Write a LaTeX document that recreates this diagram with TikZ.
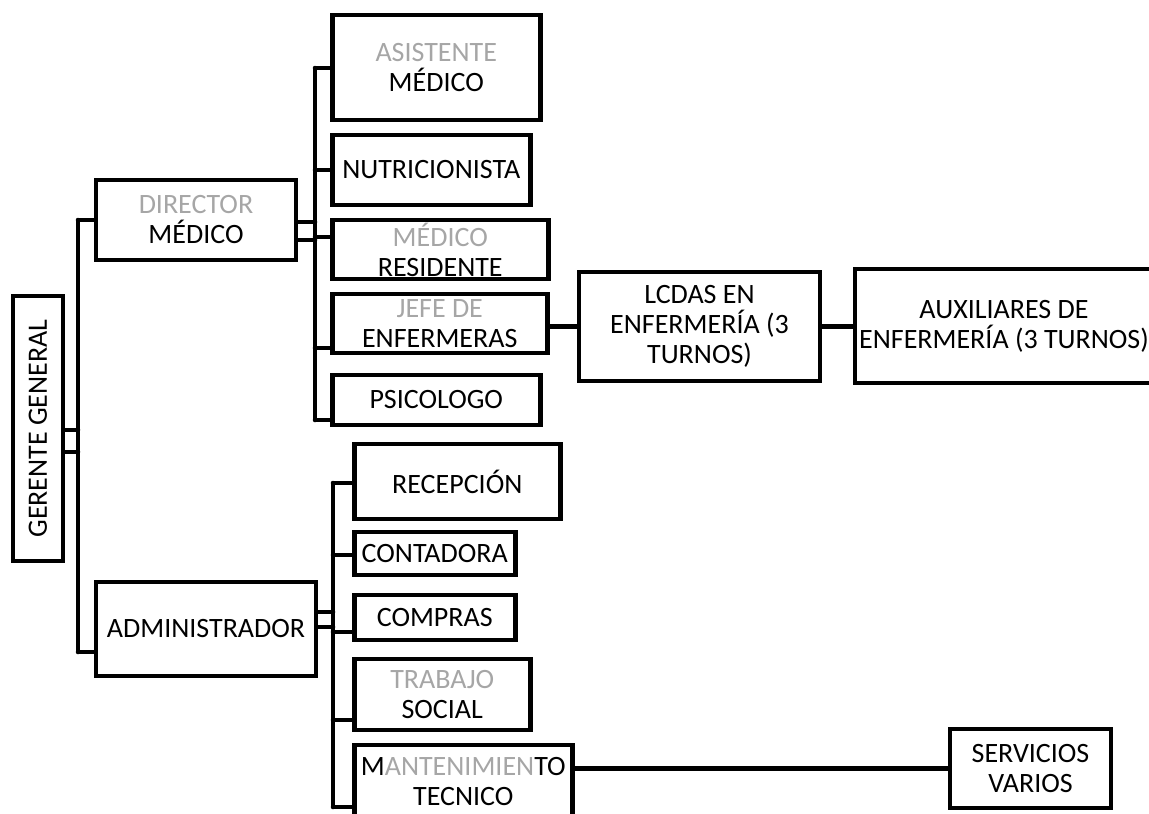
\documentclass[tikz,border=0pt]{standalone}
\usepackage{fontspec}
\setmainfont{Carlito}
\definecolor{grisclaro}{RGB}{166,166,166}
\begin{document}
\begin{tikzpicture}[x=1pt,y=-1pt,
  caja/.style={draw,line width=4.5pt,align=center,inner sep=0pt,font=\fontsize{28}{30}\selectfont},
  linea/.style={line width=4.5pt,line cap=round}]
\useasboundingbox (0,0) rectangle (1149,814);
\node[caja,rotate=90,minimum width=265pt,minimum height=50pt] (gerente) at (38,428.5) {GERENTE GENERAL};
\node[caja,minimum width=200pt,minimum height=80pt] (director) at (196,220) {\textcolor{grisclaro}{DIRECTOR}\\MÉDICO};
\node[caja,minimum width=220pt,minimum height=94pt] (admin) at (206,629) {ADMINISTRADOR};
\coordinate (gtop) at (78,220);
\coordinate (gbot) at (78,652);
\draw[linea] (gtop) -- (gbot);
\draw[linea] (gtop) -- (director.west |- gtop);
\draw[linea] (gbot) -- (admin.west |- gbot);
\foreach \ya in {430,452}
  \draw[linea] (gerente.south |- 0,\ya) -- (gtop |- 0,\ya);
\coordinate (dtop) at (315,68);
\coordinate (dbot) at (315,420);
\draw[linea] (dtop) -- (dbot);
\foreach \ya in {222,240}
  \draw[linea] (director.east |- 0,\ya) -- (dtop |- 0,\ya);
\foreach \nom/\cy/\w/\h/\ya/\txt in {
  asistente/67.5/208/105/68/{\textcolor{grisclaro}{ASISTENTE}\\MÉDICO},
  nutri/170/198/70/170/{NUTRICIONISTA},
  residente/249.5/216/59/237/{\textcolor{grisclaro}{MÉDICO}\\RESIDENTE},
  jefe/323.5/215/59/348/{\textcolor{grisclaro}{JEFE DE}\\ENFERMERAS},
  psico/400/208/50/420/{PSICOLOGO}}{
  \node[caja,anchor=west,minimum width=\w pt,minimum height=\h pt] (\nom) at (330,\cy) {\txt};
  \draw[linea] (dtop |- 0,\ya) -- (\nom.west |- 0,\ya);
}
\coordinate (atop) at (333,483);
\coordinate (abot) at (333,807);
\draw[linea] (atop) -- (abot);
\foreach \ya in {612,627}
  \draw[linea] (admin.east |- 0,\ya) -- (atop |- 0,\ya);
\foreach \nom/\cy/\w/\h/\ya/\txt in {
  recepcion/481.5/206/75/483/{RECEPCIÓN},
  contadora/553.5/161/43/555/{CONTADORA},
  compras/617.5/161/45/632/{COMPRAS},
  trabajo/694.5/176/71/720/{\textcolor{grisclaro}{TRABAJO}\\SOCIAL},
  mant/781.5/218/73/807/{M\textcolor{grisclaro}{ANTENIMIEN}TO\\TECNICO}}{
  \node[caja,anchor=west,minimum width=\w pt,minimum height=\h pt] (\nom) at (352,\cy) {\txt};
  \draw[linea] (atop |- 0,\ya) -- (\nom.west |- 0,\ya);
}
\node[caja,minimum width=241pt,minimum height=109pt] (lcdas) at (699.5,326.5) {LCDAS EN\\ENFERMERÍA (3\\TURNOS)};
\node[caja,minimum width=298pt,minimum height=114pt] (auxiliares) at (1004,326) {AUXILIARES DE\\ENFERMERÍA (3 TURNOS)};
\node[caja,minimum width=161pt,minimum height=79pt] (servicios) at (1030.5,768.5) {SERVICIOS\\VARIOS};
\draw[linea] (jefe.east |- lcdas.west) -- (lcdas.west);
\draw[linea] (lcdas.east) -- (auxiliares.west |- lcdas.east);
\draw[linea] (mant.east |- servicios.west) -- (servicios.west);
\end{tikzpicture}
\end{document}
